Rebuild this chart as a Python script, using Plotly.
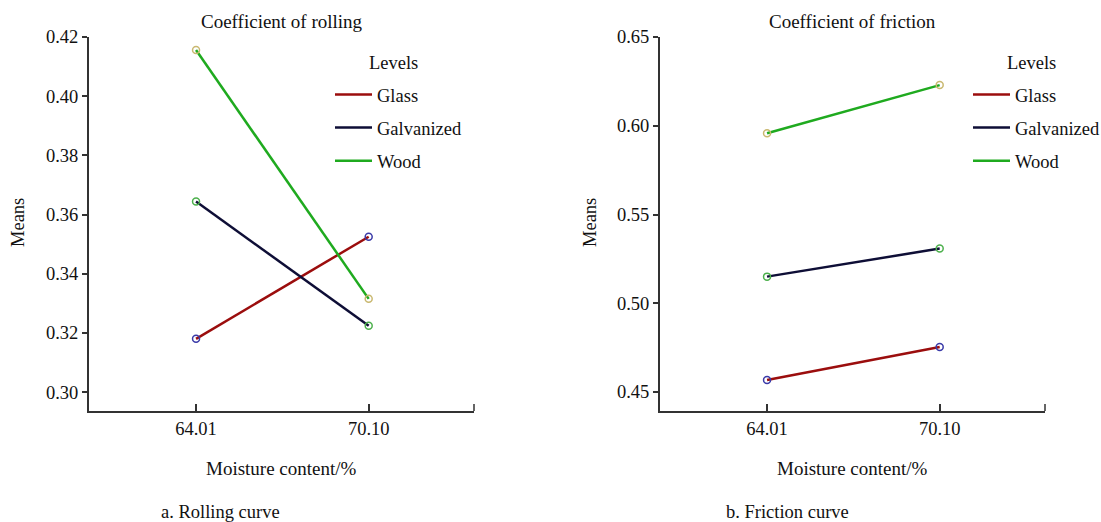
import plotly.graph_objects as go

moisture = ["64.01", "70.10"]
levels = ["Glass", "Galvanized", "Wood"]
rolling_glass = [0.318, 0.3525]
rolling_galv = [0.3644, 0.3224]
rolling_wood = [0.4156, 0.3315]
friction_glass = [0.4568, 0.4754]
friction_galv = [0.5150, 0.5308]
friction_wood = [0.5958, 0.6229]
rolling_ticks = [0.30, 0.32, 0.34, 0.36, 0.38, 0.40, 0.42]
friction_ticks = [0.45, 0.50, 0.55, 0.60, 0.65]

line_colors = {"Glass": "#9b0d0d", "Galvanized": "#0e0e36", "Wood": "#1faa1f"}
marker_colors = {"Glass": "#3a3aa8", "Galvanized": "#4cb04c", "Wood": "#c9b870"}

FONT = "Liberation Serif"
FS = 18.5
W, H = 1101, 522

fig = go.Figure()

panels = [
    ("x", "y", "legend", [rolling_glass, rolling_galv, rolling_wood]),
    ("x2", "y2", "legend2", [friction_glass, friction_galv, friction_wood]),
]
for xa, ya, lg, series in panels:
    for name, vals in zip(levels, series):
        fig.add_trace(go.Scatter(
            x=moisture, y=vals, mode="lines", name=name, xaxis=xa, yaxis=ya,
            line=dict(color=line_colors[name], width=2.5), legend=lg,
            legendgroup=lg + name,
        ))
    for name, vals in zip(levels, series):
        fig.add_trace(go.Scatter(
            x=moisture, y=vals, mode="markers", name=name, xaxis=xa, yaxis=ya,
            showlegend=False,
            marker=dict(symbol="circle-open", size=7, color=marker_colors[name],
                        line=dict(width=1.5, color=marker_colors[name])),
        ))

def px_x(p):
    return p / W

def px_y(p):
    return 1 - p / H

xdom1 = [px_x(89), px_x(474)]
xdom2 = [px_x(660), px_x(1045)]
ydom = [px_y(411), px_y(37)]

axis_common = dict(showline=True, linecolor="#333333", linewidth=2, showgrid=False,
                   zeroline=False, tickcolor="#333333", tickwidth=1.5, automargin=False,
                   tickfont=dict(family=FONT, size=FS, color="#111111"))

xrange = [-0.62, 1.61]

leg_common = dict(xanchor="left", yanchor="top", bgcolor="rgba(0,0,0,0)",
                  traceorder="grouped", tracegroupgap=6, itemwidth=37,
                  font=dict(family=FONT, size=FS, color="#111111"))

fig.update_layout(
    width=W, height=H, autosize=False,
    margin=dict(l=0, r=0, t=0, b=0, pad=0, autoexpand=False),
    paper_bgcolor="white", plot_bgcolor="white",
    font=dict(family=FONT, size=FS, color="#111111"),
    xaxis=dict(domain=xdom1, anchor="y", type="category", range=xrange,
               ticks="inside", ticklen=7, **axis_common),
    xaxis2=dict(domain=xdom2, anchor="y2", type="category", range=xrange,
                ticks="inside", ticklen=7, **axis_common),
    yaxis=dict(domain=ydom, anchor="x", range=[0.2936, 0.42], tickvals=rolling_ticks,
               tickformat=".2f", ticks="outside", ticklen=5, **axis_common),
    yaxis2=dict(domain=ydom, anchor="x2", range=[0.4393, 0.65], tickvals=friction_ticks,
                tickformat=".2f", ticks="outside", ticklen=5, **axis_common),
    legend=dict(x=px_x(330), y=px_y(76), **leg_common),
    legend2=dict(x=px_x(968), y=px_y(76), **leg_common),
)

# end ticks at right end of x axes
for xr, yr in [("x domain", "y domain"), ("x2 domain", "y2 domain")]:
    fig.add_shape(type="line", xref=xr, yref=yr, x0=1, x1=1, y0=0, y1=7 / (411 - 37),
                  line=dict(color="#333333", width=1.5))

ann = [
    ("Coefficient of rolling", (89 + 474) / 2, 21, 19, 0),
    ("Coefficient of friction", (660 + 1045) / 2, 21, 19, 0),
    ("Levels", 393, 63, FS, 0),
    ("Levels", 1031, 63, FS, 0),
    ("Moisture content/%", (89 + 474) / 2, 468, 19, 0),
    ("Moisture content/%", (660 + 1045) / 2, 468, 19, 0),
    ("a. Rolling curve", 220, 512, FS, 0),
    ("b. Friction curve", 787, 512, FS, 0),
    ("Means", 18, 223, FS, -90),
    ("Means", 590, 223, FS, -90),
]
for text, xp, yp, size, ang in ann:
    fig.add_annotation(text=text, xref="paper", yref="paper", x=px_x(xp), y=px_y(yp),
                       xanchor="center", yanchor="middle", showarrow=False, textangle=ang,
                       font=dict(family=FONT, size=size, color="#111111"))

fig.write_html("out.html")
